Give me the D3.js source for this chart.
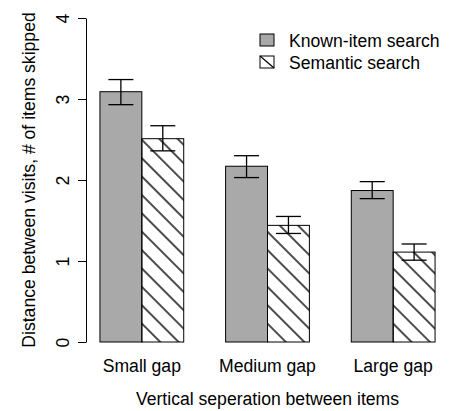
<!DOCTYPE html>
<html>
<head>
<meta charset="utf-8">
<script src="https://cdn.jsdelivr.net/npm/d3@7"></script>
<style>
  html, body { margin: 0; padding: 0; background: #fff; }
  svg { display: block; font-family: "Liberation Sans", Arial, sans-serif; }
</style>
</head>
<body>
<svg id="chart" width="450" height="411"></svg>
<script>
const categories = ["Small gap", "Medium gap", "Large gap"];
const seriesNames = ["Known-item search", "Semantic search"];
const knownValues = [3.09, 2.17, 1.87];
const knownLow = [2.93, 2.03, 1.77];
const knownHigh = [3.24, 2.30, 1.98];
const semanticValues = [2.51, 1.44, 1.11];
const semanticLow = [2.36, 1.34, 1.01];
const semanticHigh = [2.67, 1.55, 1.21];
const yTicks = [0, 1, 2, 3, 4];
const yTitle = "Distance between visits, # of items skipped";
const xTitle = "Vertical seperation between items";

const fontSize = 17.6;
const svg = d3.select("#chart");

const y = d3.scaleLinear().domain([0, 4]).range([342, 18]);
const x0 = d3.scaleBand().domain(categories).range([79, 456])
  .paddingInner(1/3).paddingOuter(1/6);
const x1 = d3.scaleBand().domain(seriesNames).range([0, x0.bandwidth()]);

const defs = svg.append("defs");
const pat = defs.append("pattern")
  .attr("id", "hatch")
  .attr("patternUnits", "userSpaceOnUse")
  .attr("width", 13).attr("height", 13)
  .attr("patternTransform", "rotate(45)");
pat.append("line").attr("x1", 0).attr("y1", 0).attr("x2", 13).attr("y2", 0)
  .attr("stroke", "#000").attr("stroke-width", 1.4);
pat.append("line").attr("x1", 0).attr("y1", 13).attr("x2", 13).attr("y2", 13)
  .attr("stroke", "#000").attr("stroke-width", 1.4);

const rows = categories.map((c, i) => ({
  cat: c,
  bars: [
    { s: seriesNames[0], v: knownValues[i], lo: knownLow[i], hi: knownHigh[i] },
    { s: seriesNames[1], v: semanticValues[i], lo: semanticLow[i], hi: semanticHigh[i] }
  ]
}));

const groups = svg.append("g").selectAll("g.grp").data(rows).join("g")
  .attr("class", "grp")
  .attr("transform", d => `translate(${x0(d.cat)},0)`);

// bars, each anchored at its bottom-left corner so hatching starts there
const barG = groups.selectAll("g.bar").data(d => d.bars).join("g")
  .attr("class", "bar")
  .attr("transform", d => `translate(${x1(d.s)},${y(0)})`);

barG.append("rect")
  .attr("x", 0)
  .attr("y", d => y(d.v) - y(0))
  .attr("width", x1.bandwidth())
  .attr("height", d => y(0) - y(d.v))
  .attr("fill", d => d.s === seriesNames[0] ? "#A9A9A9" : "url(#hatch)")
  .attr("stroke", "#000").attr("stroke-width", 1);

// error bars
const capHalf = 12.5;
const eb = groups.selectAll("g.err").data(d => d.bars).join("g")
  .attr("class", "err")
  .attr("stroke", "#000").attr("stroke-width", 1.3);
eb.append("line")
  .attr("x1", d => x1(d.s) + x1.bandwidth() / 2).attr("x2", d => x1(d.s) + x1.bandwidth() / 2)
  .attr("y1", d => y(d.lo)).attr("y2", d => y(d.hi));
eb.append("line")
  .attr("x1", d => x1(d.s) + x1.bandwidth() / 2 - capHalf).attr("x2", d => x1(d.s) + x1.bandwidth() / 2 + capHalf)
  .attr("y1", d => y(d.hi)).attr("y2", d => y(d.hi));
eb.append("line")
  .attr("x1", d => x1(d.s) + x1.bandwidth() / 2 - capHalf).attr("x2", d => x1(d.s) + x1.bandwidth() / 2 + capHalf)
  .attr("y1", d => y(d.lo)).attr("y2", d => y(d.lo));

// y axis
const yAxis = svg.append("g").attr("transform", "translate(86,0)")
  .call(d3.axisLeft(y).tickValues(yTicks).tickSize(8).tickSizeOuter(0).tickFormat(d3.format("d")));
yAxis.select(".domain").attr("stroke", "#000").attr("stroke-width", 1);
yAxis.selectAll(".tick line").attr("stroke", "#000").attr("stroke-width", 1);
yAxis.selectAll(".tick text")
  .attr("font-size", fontSize)
  .attr("font-family", "Liberation Sans, Arial, sans-serif")
  .attr("fill", "#000")
  .attr("text-anchor", "middle")
  .attr("dy", null)
  .attr("x", null)
  .attr("transform", "translate(-17,0) rotate(-90)");

// category labels
svg.append("g").selectAll("text").data(categories).join("text")
  .attr("x", d => x0(d) + x0.bandwidth() / 2)
  .attr("y", 372)
  .attr("text-anchor", "middle")
  .attr("font-size", fontSize)
  .attr("fill", "#000")
  .text(d => d);

// axis titles
svg.append("text")
  .attr("x", (x0(categories[0]) + x0(categories[2]) + x0.bandwidth()) / 2)
  .attr("y", 405)
  .attr("text-anchor", "middle")
  .attr("font-size", fontSize)
  .text(xTitle);

svg.append("text")
  .attr("transform", `translate(34.5,${(y(0) + y(4)) / 2}) rotate(-90)`)
  .attr("text-anchor", "middle")
  .attr("font-size", fontSize)
  .text(yTitle);

// legend
const legend = svg.append("g").attr("transform", "translate(260,34)");
const li = legend.selectAll("g").data(seriesNames).join("g")
  .attr("transform", (d, i) => `translate(0,${i * 22})`);
li.append("rect")
  .attr("width", 14).attr("height", 12)
  .attr("fill", (d, i) => i === 0 ? "#A9A9A9" : "#fff")
  .attr("stroke", "#000").attr("stroke-width", 1);
li.filter((d, i) => i === 1).append("line")
  .attr("x1", 0).attr("y1", 0).attr("x2", 14).attr("y2", 12)
  .attr("stroke", "#000").attr("stroke-width", 1.2);
li.append("text")
  .attr("x", 29).attr("y", 12.5)
  .attr("font-size", fontSize)
  .text(d => d);
</script>
</body>
</html>
